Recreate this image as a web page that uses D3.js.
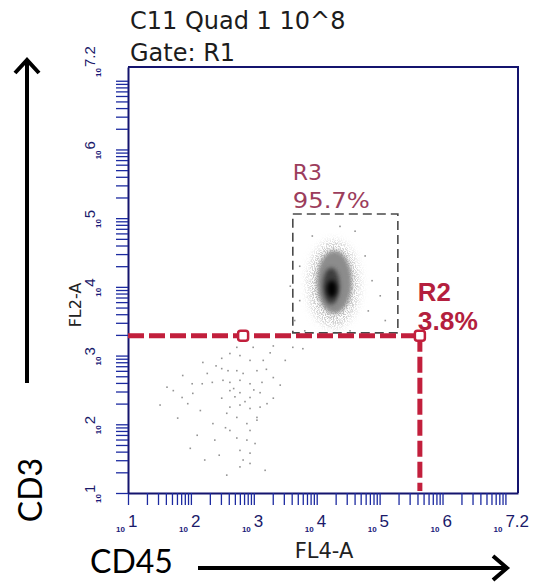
<!DOCTYPE html>
<html>
<head>
<meta charset="utf-8">
<script src="https://cdn.jsdelivr.net/npm/d3@7"></script>
<style>
  body { margin: 0; background: #fff; }
  svg { display: block; }
</style>
</head>
<body>
<div id="chart"></div>
<script>
// axis decades (log10 of the value) and their labels
const xDecades = [1, 2, 3, 4, 5, 6, 7];
const xDecadeLabels = ["1", "2", "3", "4", "5", "6", "7.2"];
const yDecades = [1, 2, 3, 4, 5, 6, 7.2];
const yDecadeLabels = ["1", "2", "3", "4", "5", "6", "7.2"];
const axisMin = 1, axisMax = 7.2;

// gates, in log10 units
const r2Gate = { fl4: 5.64, fl2: 3.29 };
const r1Marker = 2.83;
const r3Gate = { fl4: [3.62, 5.29], fl2: [3.33, 5.06] };
const r3Stat = "95.7%";
const r2Stat = "3.8%";

// main population, density levels (centre and half widths in log10)
const clusterLevels = [0.15, 0.4, 0.75, 1];
const clusterCx = [4.27, 4.28, 4.23, 4.24];
const clusterCy = [4.04, 4.07, 4.01, 3.97];
const clusterRx = [0.41, 0.28, 0.135, 0.08];
const clusterRy = [0.63, 0.46, 0.265, 0.125];

// scattered events (log10 FL4-A, log10 FL2-A)
const eventsFL4 = [2.19, 2.49, 2.62, 2.78, 2.94, 3.05, 2.49, 2.59, 2.73, 2.83, 1.87, 2.02, 2.18, 2.34, 2.51,
  2.62, 2.78, 2.94, 3.13, 1.62, 1.72, 1.86, 2.03, 2.49, 2.62, 2.78, 2.94, 3.10, 3.31, 2.62, 2.78, 2.94,
  3.05, 2.73, 2.57, 2.89, 3.05, 2.35, 2.10, 2.73, 2.89, 3.02, 2.78, 2.94, 2.83, 2.94, 2.78, 2.57, 3.15,
  3.31, 3.10, 3.21, 2.62, 2.94, 2.26, 2.99, 2.73, 3.31, 3.62, 3.78, 1.79, 1.99, 2.22, 1.51, 2.38, 3.18,
  3.42, 3.50, 3.26, 3.73, 3.65, 3.81, 4.77, 4.88, 4.61, 3.93, 4.37, 4.82, 5.01, 4.53, 4.05, 5.09, 3.73, 3.58,
  2.40, 2.68, 2.86, 3.00, 2.15, 2.55, 3.20, 2.70, 2.45, 1.95];
const eventsFL2 = [2.90, 2.96, 3.03, 3.00, 2.93, 2.78, 2.81, 2.78, 2.78, 2.74, 2.71, 2.59, 2.59, 2.61, 2.64,
  2.61, 2.64, 2.59, 2.61, 2.54, 2.49, 2.39, 2.45, 2.38, 2.49, 2.46, 2.39, 2.46, 2.38, 2.25, 2.28, 2.23,
  2.10, 2.10, 2.16, 2.01, 2.06, 2.01, 1.84, 1.80, 1.77, 1.72, 1.62, 1.58, 1.48, 1.43, 1.38, 1.26, 2.93,
  2.68, 2.25, 2.30, 1.91, 1.91, 2.74, 3.12, 3.12, 3.14, 3.12, 3.10, 2.09, 1.65, 1.48, 2.28, 1.77, 1.33,
  2.57, 2.93, 3.04, 3.80, 3.51, 3.36, 4.45, 4.09, 4.81, 4.74, 4.88, 3.65, 3.87, 3.36, 3.30, 3.51, 4.30, 4.01,
  2.85, 2.52, 2.33, 2.50, 2.20, 1.95, 2.80, 2.40, 1.55, 2.30];

const W = 534, H = 582;
const plot = { left: 128, right: 518, top: 67, bottom: 493 };
const p10 = v => Math.pow(10, v);

const svg = d3.select("#chart").append("svg")
  .attr("width", W).attr("height", H);

const defs = svg.append("defs");
defs.append("filter").attr("id", "soft").attr("x", "-50%").attr("y", "-50%").attr("width", "200%").attr("height", "200%")
  .append("feGaussianBlur").attr("stdDeviation", 2);
const grain = defs.append("filter").attr("id", "grain").attr("x", "-50%").attr("y", "-50%").attr("width", "200%").attr("height", "200%");
grain.append("feGaussianBlur").attr("in", "SourceGraphic").attr("stdDeviation", 4).attr("result", "b");
grain.append("feTurbulence").attr("type", "fractalNoise").attr("baseFrequency", 0.9).attr("numOctaves", 1).attr("seed", 4).attr("result", "n");
grain.append("feColorMatrix").attr("in", "n").attr("type", "matrix")
  .attr("values", "0 0 0 0 0  0 0 0 0 0  0 0 0 0 0  7 0 0 0 -3.1").attr("result", "m");
grain.append("feComposite").attr("in", "b").attr("in2", "m").attr("operator", "in");

const x = d3.scaleLog().domain([p10(axisMin), p10(axisMax)]).range([plot.left, plot.right]);
const y = d3.scaleLog().domain([p10(axisMin), p10(axisMax)]).range([plot.bottom, plot.top]);
const lx = v => x(p10(v));
const ly = v => y(p10(v));

// title
svg.append("text").attr("x", 130).attr("y", 29)
  .style("font", "24px 'DejaVu Sans'").style("fill", "#1c1c1c").text("C11 Quad 1 10^8");
svg.append("text").attr("x", 130).attr("y", 61)
  .style("font", "24px 'DejaVu Sans'").style("fill", "#1c1c1c").text("Gate: R1");

// cluster
const grey = d3.scaleLinear().domain([0.15, 1]).range(["#c4c4c4", "#050505"]);
svg.append("g").selectAll("ellipse")
  .data(clusterLevels)
  .join("ellipse")
  .attr("cx", (d, i) => lx(clusterCx[i]))
  .attr("cy", (d, i) => ly(clusterCy[i]))
  .attr("rx", (d, i) => lx(clusterCx[i] + clusterRx[i]) - lx(clusterCx[i]))
  .attr("ry", (d, i) => ly(clusterCy[i]) - ly(clusterCy[i] + clusterRy[i]))
  .attr("fill", d => grey(d))
  .attr("filter", (d, i) => i === 0 ? "url(#grain)" : "url(#soft)");

// events
svg.append("g").selectAll("rect")
  .data(eventsFL4)
  .join("rect")
  .attr("x", (d, i) => lx(d) - 0.8)
  .attr("y", (d, i) => ly(eventsFL2[i]) - 0.8)
  .attr("width", 1.6).attr("height", 1.6)
  .attr("fill", "#939393");

// axes
const minorTicks = [];
for (let n = 1; n < 7; n++) for (let k = 1; k < 10; k++) minorTicks.push(k * p10(n));
minorTicks.push(p10(7));

const axisColor = "#14146e";
const gx = svg.append("g").attr("transform", `translate(0,${plot.bottom})`)
  .call(d3.axisBottom(x).tickValues(minorTicks).tickSize(12).tickSizeOuter(0).tickFormat(""));
const gy = svg.append("g").attr("transform", `translate(${plot.left},0)`)
  .call(d3.axisLeft(y).tickValues(minorTicks).tickSize(12).tickSizeOuter(0).tickFormat(""));
[gx, gy].forEach(g => {
  g.select(".domain").attr("stroke", axisColor).attr("stroke-width", 2);
  g.selectAll(".tick line").attr("stroke", "#1c2aa0").attr("stroke-width", 1.3);
});

// frame (top and right)
svg.append("path")
  .attr("d", `M${plot.left},${plot.top}H${plot.right}V${plot.bottom}`)
  .attr("fill", "none").attr("stroke", axisColor).attr("stroke-width", 2);

// x tick labels
const xl = svg.append("g").selectAll("g").data(xDecades).join("g");
xl.append("text").attr("x", d => lx(d) - 3).attr("y", 532).attr("text-anchor", "end")
  .style("font", "bold 8px 'Liberation Sans'").style("fill", "#1a1a7a").text("10");
xl.append("text").attr("x", d => lx(d)).attr("y", 527)
  .style("font", "17px 'Liberation Sans'").style("fill", "#1a1a6a")
  .text((d, i) => xDecadeLabels[i]);

// y tick labels (rotated)
const yl = svg.append("g").selectAll("g").data(yDecades).join("g")
  .attr("transform", d => `translate(101,${ly(d)}) rotate(-90)`);
yl.append("text").attr("x", -1).attr("y", 0).attr("text-anchor", "end")
  .style("font", "bold 8px 'Liberation Sans'").style("fill", "#1a1a7a").text("10");
yl.append("text").attr("x", 0).attr("y", -6)
  .style("font", "15px 'Liberation Sans'").style("fill", "#1a1a6a")
  .text((d, i) => yDecadeLabels[i]);

// axis titles
svg.append("text").attr("transform", "translate(81,305) rotate(-90)").attr("text-anchor", "middle")
  .style("font", "16px 'DejaVu Sans'").style("fill", "#222").text("FL2-A");
svg.append("text").attr("x", 324).attr("y", 558).attr("text-anchor", "middle")
  .style("font", "21px 'DejaVu Sans'").style("fill", "#222").text("FL4-A");

// R3 gate
svg.append("rect")
  .attr("x", lx(r3Gate.fl4[0])).attr("y", ly(r3Gate.fl2[1]))
  .attr("width", lx(r3Gate.fl4[1]) - lx(r3Gate.fl4[0]))
  .attr("height", ly(r3Gate.fl2[0]) - ly(r3Gate.fl2[1]))
  .attr("fill", "none").attr("stroke", "#4a4a4a").attr("stroke-width", 1.6)
  .attr("stroke-dasharray", "9 5");
const r3c = "#9c3d5c";
svg.append("text").attr("x", lx(r3Gate.fl4[0])).attr("y", ly(r3Gate.fl2[1]) - 34)
  .style("font", "22px 'DejaVu Sans'").style("fill", r3c).text("R3");
svg.append("text").attr("x", lx(r3Gate.fl4[0])).attr("y", ly(r3Gate.fl2[1]) - 6)
  .attr("textLength", 77).attr("lengthAdjust", "spacingAndGlyphs")
  .style("font", "22px 'DejaVu Sans'").style("fill", r3c).text(r3Stat);

// R2 quadrant gate
const red = "#c21f3c";
const cx = lx(r2Gate.fl4), cy = ly(r2Gate.fl2);
svg.append("path")
  .attr("d", `M${plot.left},${cy}H${cx}`)
  .attr("fill", "none").attr("stroke", red).attr("stroke-width", 5).attr("stroke-dasharray", "16 5");
svg.append("path")
  .attr("d", `M${cx},${cy}V${plot.bottom - 2}`)
  .attr("fill", "none").attr("stroke", red).attr("stroke-width", 5).attr("stroke-dasharray", "16 5");
svg.append("g").selectAll("rect")
  .data([r1Marker, r2Gate.fl4])
  .join("rect")
  .attr("x", d => lx(d) - 5).attr("y", cy - 5)
  .attr("width", 10).attr("height", 10).attr("rx", 2.5)
  .attr("fill", "#fff").attr("stroke", red).attr("stroke-width", 2.5);

svg.append("text").attr("x", cx - 2).attr("y", cy - 35)
  .attr("textLength", 33).attr("lengthAdjust", "spacingAndGlyphs")
  .style("font", "bold 25px 'Liberation Sans'").style("fill", "#b41f3e").text("R2");
svg.append("text").attr("x", cx - 2).attr("y", cy - 6)
  .attr("textLength", 60).attr("lengthAdjust", "spacingAndGlyphs")
  .style("font", "bold 25px 'Liberation Sans'").style("fill", "#b41f3e").text(r2Stat);

// outer annotations
svg.append("text").attr("x", 90).attr("y", 573)
  .style("font", "32px Lato").style("fill", "#000").text("CD45");
svg.append("path").attr("d", "M198,568H506M493,556L507,568L493,580")
  .attr("fill", "none").attr("stroke", "#000").attr("stroke-width", 4);
svg.append("text").attr("transform", "translate(42,490) rotate(-90)").attr("text-anchor", "middle")
  .style("font", "32px Lato").style("fill", "#000").text("CD3");
svg.append("path").attr("d", "M27,383V60M15,73L27,60L39,73")
  .attr("fill", "none").attr("stroke", "#000").attr("stroke-width", 4);
</script>
</body>
</html>
